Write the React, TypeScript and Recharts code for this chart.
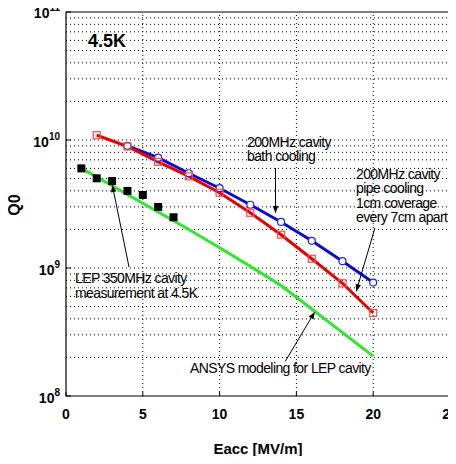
import React from 'react';
import {
  ComposedChart,
  Line,
  Scatter,
  XAxis,
  YAxis,
  ReferenceLine,
  ReferenceArea,
} from 'recharts';

const eaccPipe = [2, 4, 6, 8, 10, 12, 14, 16, 18, 20];
const q0Pipe = [1.09e10, 8.9e9, 6.75e9, 5.2e9, 3.87e9, 2.7e9, 1.82e9, 1.18e9, 7.6e8, 4.45e8];

const eaccBath = [4, 6, 8, 10, 12, 14, 16, 18, 20];
const q0Bath = [9.0e9, 7.27e9, 5.5e9, 4.2e9, 3.12e9, 2.29e9, 1.63e9, 1.13e9, 7.7e8];

const eaccLep = [1, 2, 3, 4, 5, 6, 7];
const q0Lep = [6.0e9, 5.02e9, 4.78e9, 4.0e9, 3.72e9, 3.0e9, 2.49e9];

const eaccAnsys = [1, 2, 4, 6, 8, 10, 12, 14, 16, 18, 20];
const q0Ansys = [6.0e9, 5.14e9, 3.75e9, 2.74e9, 2.0e9, 1.44e9, 1.03e9, 7.3e8, 4.78e8, 3.13e8, 2.05e8];

const xTicks = [0, 5, 10, 15, 20, 25];
const xGrid = [5, 10, 15, 20];
const yTicks = [1e8, 1e9, 1e10, 1e11];
const decades = [1e8, 1e9, 1e10];
const mantissas = [1, 2, 3, 4, 5, 6, 7, 8, 9];

const yGrid = decades.flatMap((d) => mantissas.map((m) => m * d)).filter((v) => v > 1e8);

const toRows = (xs: number[], ys: number[]) => xs.map((e, i) => ({ e, q: ys[i] }));
const pipeData = toRows(eaccPipe, q0Pipe);
const bathData = toRows(eaccBath, q0Bath);
const lepData = toRows(eaccLep, q0Lep);
const ansysData = toRows(eaccAnsys, q0Ansys);

const FONT = '"Liberation Sans", Arial, Helvetica, sans-serif';

const YTick = (props: any) => {
  const { x, y, payload } = props;
  const exp = Math.round(Math.log10(payload.value));
  const base = exp === 11 ? y + 6 : y + 7;
  return (
    <g>
      <line x1={x + 6} x2={x + 11} y1={y} y2={y} stroke="#000" strokeWidth={1} />
      <text x={x} y={base} textAnchor="end" fontFamily={FONT} fontWeight="bold" fontSize={14} fill="#000">
        10
        <tspan dy={-7} fontSize={10}>
          {exp}
        </tspan>
      </text>
    </g>
  );
};

const RightTick = (props: any) => {
  const { x, y } = props;
  return <line x1={x - 6} x2={x} y1={y} y2={y} stroke="#000" strokeWidth={1} />;
};

const XTick = (props: any) => {
  const { x, y, payload } = props;
  return (
    <g>
      <line x1={x} x2={x} y1={y - 12} y2={y - 16} stroke="#000" strokeWidth={1} />
      <text x={x} y={y + 11} textAnchor="middle" fontFamily={FONT} fontWeight="bold" fontSize={14} fill="#000">
        {payload.value}
      </text>
    </g>
  );
};

const TopTick = (props: any) => {
  const { x, y } = props;
  return <line x1={x} x2={x} y1={y} y2={y + 4} stroke="#000" strokeWidth={1} />;
};

const SquareDot = (props: any) => {
  const { cx, cy, index } = props;
  if (cx == null || cy == null) return <g key={index} />;
  return (
    <rect key={index} x={cx - 3.5} y={cy - 3.5} width={7} height={7} fill="none" stroke="#ff4a4a" strokeWidth={1.2} />
  );
};

const CircleDot = (props: any) => {
  const { cx, cy, index } = props;
  if (cx == null || cy == null) return <g key={index} />;
  return <circle key={index} cx={cx} cy={cy} r={3.5} fill="#fff" stroke="#2020ff" strokeWidth={1.2} />;
};

const GRID = { stroke: '#000', strokeDasharray: '1 3', strokeWidth: 1 };

const txt = { fontFamily: FONT, fontSize: 14, letterSpacing: -0.6, fill: '#000' } as const;

export default function App() {
  return (
    <div style={{ position: 'relative', width: 448, height: 456, marginTop: -8 }}>
      <ComposedChart width={448} height={456} margin={{ top: 12, right: 6, left: 0, bottom: 0 }}>
        <XAxis
          xAxisId={0}
          type="number"
          dataKey="e"
          domain={[0, 25]}
          ticks={xTicks}
          interval={0}
          allowDataOverflow
          height={60}
          axisLine={false}
          tickLine={false}
          tickSize={0}
          tickMargin={12}
          tick={<XTick />}
        />
        <XAxis
          xAxisId="t"
          orientation="top"
          type="number"
          dataKey="e"
          domain={[0, 25]}
          ticks={xGrid}
          interval={0}
          height={0}
          axisLine={false}
          tickLine={false}
          tickSize={0}
          tickMargin={0}
          tick={<TopTick />}
        />
        <YAxis
          yAxisId={0}
          type="number"
          dataKey="q"
          scale="log"
          domain={[1e8, 1e11]}
          ticks={yTicks}
          interval={0}
          allowDataOverflow
          width={58}
          axisLine={false}
          tickLine={false}
          tickSize={0}
          tickMargin={6}
          tick={<YTick />}
        />
        <YAxis
          yAxisId="r"
          orientation="right"
          type="number"
          dataKey="q"
          scale="log"
          domain={[1e8, 1e11]}
          ticks={[1e9, 1e10]}
          interval={0}
          allowDataOverflow
          width={0}
          axisLine={false}
          tickLine={false}
          tickSize={0}
          tickMargin={0}
          tick={<RightTick />}
        />
        {yGrid.map((v) => (
          <ReferenceLine key={'h' + v} y={v} {...GRID} ifOverflow="hidden" />
        ))}
        {xGrid.map((v) => (
          <ReferenceLine key={'v' + v} x={v} {...GRID} />
        ))}
        <ReferenceArea x1={0} x2={25} y1={1e8} y2={1e11} fill="none" stroke="#000" strokeWidth={1.2} />
        <Line
          data={ansysData}
          dataKey="q"
          stroke="#2ee82e"
          strokeWidth={3}
          dot={false}
          isAnimationActive={false}
          legendType="none"
        />
        <Scatter data={lepData} dataKey="q" fill="#000" shape="square" isAnimationActive={false} legendType="none" />
        <Line
          data={bathData}
          dataKey="q"
          stroke="#0a0ad0"
          strokeWidth={3}
          dot={<CircleDot />}
          isAnimationActive={false}
          legendType="none"
        />
        <Line
          data={pipeData}
          dataKey="q"
          stroke="#e60000"
          strokeWidth={3}
          dot={<SquareDot />}
          isAnimationActive={false}
          legendType="none"
        />
      </ComposedChart>
      <svg
        width={448}
        height={456}
        style={{ position: 'absolute', left: 0, top: 0, overflow: 'visible', pointerEvents: 'none' }}
      >
        <defs>
          <marker id="ah" viewBox="0 0 10 10" refX="10" refY="5" markerWidth="8" markerHeight="7" orient="auto" markerUnits="userSpaceOnUse">
            <path d="M0,1 L10,5 L0,9 z" fill="#000" />
          </marker>
        </defs>
        <text x={80} y={47} fontFamily={FONT} fontWeight="bold" fontSize={18} fill="#000">
          4.5K
        </text>
        <text x={239} y={146.5} {...txt}>200MHz cavity</text>
        <text x={239} y={161} {...txt}>bath cooling</text>
        <line x1={267.5} y1={168} x2={267.5} y2={213} stroke="#000" strokeWidth={1} markerEnd="url(#ah)" />

        <text x={348} y={178.5} {...txt}>200MHz cavity</text>
        <text x={348} y={193} {...txt}>pipe cooling</text>
        <text x={348} y={207.5} {...txt}>1cm coverage</text>
        <text x={348} y={222} {...txt}>every 7cm apart</text>
        <line x1={366.9} y1={228} x2={348.3} y2={291.3} stroke="#000" strokeWidth={1} markerEnd="url(#ah)" />

        <text x={67} y={283} {...txt}>LEP 350MHz cavity</text>
        <text x={67} y={297.5} {...txt}>measurement at 4.5K</text>
        <line x1={121} y1={267} x2={104.3} y2={185} stroke="#000" strokeWidth={1} markerEnd="url(#ah)" />

        <text x={182} y={373} {...txt}>ANSYS modeling for LEP cavity</text>
        <line x1={277.3} y1={361.3} x2={306.7} y2={312} stroke="#000" strokeWidth={1} markerEnd="url(#ah)" />

        <text
          x={6.5}
          y={205}
          transform="rotate(-90 6.5 205)"
          textAnchor="middle"
          dominantBaseline="central"
          fontFamily={FONT}
          fontWeight="bold"
          fontSize={16}
          fill="#000"
        >
          Q0
        </text>
        <text x={250} y={454} textAnchor="middle" fontFamily={FONT} fontWeight="bold" fontSize={15} fill="#000">
          Eacc [MV/m]
        </text>
      </svg>
    </div>
  );
}
